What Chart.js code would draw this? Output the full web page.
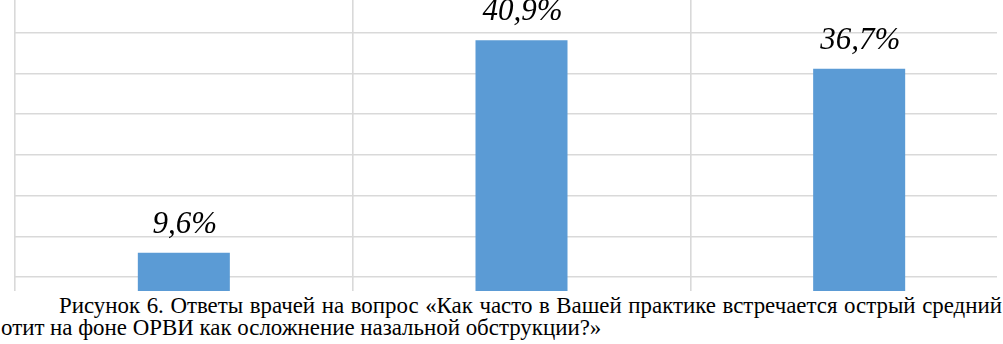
<!DOCTYPE html>
<html>
<head>
<meta charset="utf-8">
<script src="https://cdn.jsdelivr.net/npm/chart.js@4.4.0/dist/chart.umd.min.js"></script>
<style>
  html, body { margin:0; padding:0; background:#fff; width:1003px; height:344px; overflow:hidden; position:relative; }
  #wrap { position:absolute; left:0; top:-8px; width:1032px; height:326px; }
  #mask { position:absolute; left:997px; top:0; width:10px; height:292px; background:#fff; }
  #cap { position:absolute; left:0; top:291px; width:1003px; height:53px; background:#fff;
         font-family:"Liberation Serif","Times New Roman",serif; font-size:22.9px; line-height:22px; color:#000; }
  #l1 { position:absolute; left:59px; top:3.5px; width:943px; white-space:nowrap; text-align:justify; text-align-last:justify; }
  #l2 { position:absolute; left:1px; top:25.5px; white-space:nowrap; }
</style>
</head>
<body>
<div id="wrap"><canvas id="c"></canvas></div>
<div id="mask"></div>
<div id="cap">
  <div id="l1">Рисунок 6. Ответы врачей на вопрос «Как часто в Вашей практике встречается острый средний</div>
  <div id="l2">отит на фоне ОРВИ как осложнение назальной обструкции?»</div>
</div>
<script>
const categories = ['1', '2', '3'];
const values = [9.6, 40.9, 36.7];
const valueLabels = ['9,6%', '40,9%', '36,7%'];
const yTicks = [0, 6, 12, 18, 24, 30, 36, 42, 48];

const labelPlugin = {
  id: 'valueLabels',
  afterDatasetsDraw(chart) {
    const ctx = chart.ctx;
    const meta = chart.getDatasetMeta(0);
    ctx.save();
    ctx.font = 'italic 31px "Liberation Serif", "Times New Roman", serif';
    ctx.fillStyle = '#000';
    ctx.textAlign = 'center';
    ctx.textBaseline = 'alphabetic';
    meta.data.forEach((bar, i) => {
      ctx.fillText(valueLabels[i], bar.x + 1, bar.y - 20);
    });
    ctx.restore();
  }
};

new Chart(document.getElementById('c'), {
  type: 'bar',
  data: {
    labels: categories,
    datasets: [{
      data: values,
      backgroundColor: '#5B9BD5',
      borderWidth: 0,
      categoryPercentage: 1,
      barPercentage: 0.2725
    }]
  },
  options: {
    responsive: true,
    maintainAspectRatio: false,
    animation: false,
    events: [],
    layout: { padding: { left: 15, right: 4, top: 0, bottom: 0 } },
    plugins: { legend: { display: false }, tooltip: { enabled: false } },
    scales: {
      x: {
        offset: true,
        grid: { offset: true, color: '#d9d9d9', lineWidth: 1.6, drawTicks: false },
        ticks: { display: false },
        border: { display: false }
      },
      y: {
        min: yTicks[0],
        max: yTicks[yTicks.length - 1],
        afterBuildTicks(scale) { scale.ticks = yTicks.map(v => ({ value: v })); },
        grid: { color: '#d9d9d9', lineWidth: 1.6, drawTicks: false },
        ticks: { display: false },
        border: { display: false }
      }
    }
  },
  plugins: [labelPlugin]
});
</script>
</body>
</html>
